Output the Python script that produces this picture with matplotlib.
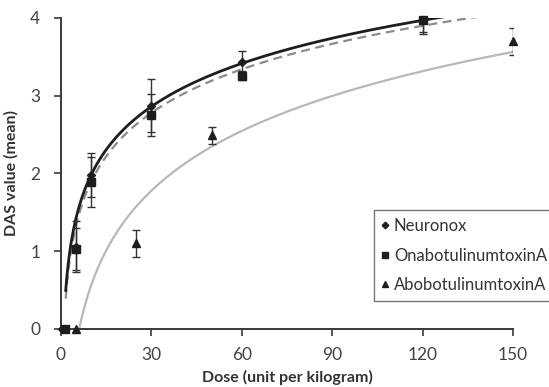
import numpy as np
import matplotlib
matplotlib.use("Agg")
import matplotlib.pyplot as plt

plt.rcParams['font.family'] = ['Lato', 'DejaVu Sans']

# Mean DAS values with error bars
neuronox_dose = [0.2, 5, 10, 30, 60, 120]
neuronox_mean = [0.0, 1.06, 1.98, 2.87, 3.43, 3.97]
neuronox_err = [0.0, 0.33, 0.28, 0.34, 0.15, 0.15]

onabot_dose = [1.2, 5, 10, 30, 60, 120]
onabot_mean = [0.0, 1.03, 1.89, 2.75, 3.26, 3.97]
onabot_err = [0.0, 0.27, 0.32, 0.27, 0.06, 0.18]

abobot_dose = [5, 25, 50, 150]
abobot_mean = [0.0, 1.10, 2.49, 3.70]
abobot_err = [0.0, 0.17, 0.11, 0.17]

# Logarithmic trendlines: y = slope * ln(dose) + intercept, over a dose range
neuronox_trend = (0.80, 0.14, 1.56, 150)
onabot_trend = (0.808, 0.032, 1.56, 150)
abobot_trend = (1.109, -1.993, 5, 150)

x_ticks = [0, 30, 60, 90, 120, 150]
y_ticks = [0, 1, 2, 3, 4]

fig = plt.figure(figsize=(5.49, 3.87), dpi=100)
ax = fig.add_axes([0.1111, 0.1499, 0.8233, 0.8036])

dark = '#1e1e1e'


def trend(ax, coef, **kw):
    slope, intercept, x0, x1 = coef
    xs = np.linspace(x0, x1, 400)
    ys = slope * np.log(xs) + intercept
    ax.plot(xs, ys, **kw)


trend(ax, abobot_trend, color='#b8b8b8', lw=1.6, zorder=2)
trend(ax, onabot_trend, color='#8c8c8c', lw=1.6, ls=(0, (4, 2.5)), zorder=3)
trend(ax, neuronox_trend, color=dark, lw=2.0, zorder=4)

for d, m, e in [(neuronox_dose, neuronox_mean, neuronox_err),
                (onabot_dose, onabot_mean, onabot_err),
                (abobot_dose, abobot_mean, abobot_err)]:
    d = np.array(d); m = np.array(m); e = np.array(e)
    sel = e > 0
    ax.errorbar(d[sel], m[sel], yerr=e[sel], fmt='none', ecolor='#333333',
                elinewidth=1.0, capsize=3, capthick=1.0, zorder=5)

ax.plot(neuronox_dose, neuronox_mean, ls='none', marker='D', ms=4.5,
        color=dark, label='Neuronox', clip_on=False, zorder=6)
ax.plot(onabot_dose, onabot_mean, ls='none', marker='s', ms=5.5,
        color=dark, label='OnabotulinumtoxinA', clip_on=False, zorder=6)
ax.plot(abobot_dose, abobot_mean, ls='none', marker='^', ms=5.5,
        color=dark, label='AbobotulinumtoxinA', clip_on=False, zorder=6)

ax.set_xlim(0, 150)
ax.set_ylim(0, 4)
ax.set_xticks(x_ticks)
ax.set_yticks(y_ticks)
ax.spines['top'].set_visible(False)
ax.spines['right'].set_visible(False)
for s in ('left', 'bottom'):
    ax.spines[s].set_color('#3a3a3a')
    ax.spines[s].set_linewidth(1.4)
ax.tick_params(axis='both', direction='out', length=5, width=1.2,
               color='#3a3a3a', labelsize=12.5, labelcolor='#444444')
ax.tick_params(axis='x', pad=8)
ax.tick_params(axis='y', pad=10)

ax.set_xlabel('Dose (unit per kilogram)', fontsize=11.5, fontweight='bold',
              color='#333333', labelpad=5)
ax.set_ylabel('DAS value (mean)', fontsize=11.5, fontweight='bold',
              color='#333333', labelpad=8)

leg = ax.legend(loc='upper left', bbox_to_anchor=(0.692, 0.383), fontsize=12,
                frameon=True, fancybox=False, handlelength=0.4,
                handletextpad=0.3, borderpad=0.5, borderaxespad=0,
                labelspacing=0.8, markerscale=0.75)
leg.get_frame().set_edgecolor('#555555')
leg.get_frame().set_linewidth(1.0)
leg.set_clip_on(False)
for t in leg.get_texts():
    t.set_color('#333333')

fig.savefig('out.png', dpi=100)
